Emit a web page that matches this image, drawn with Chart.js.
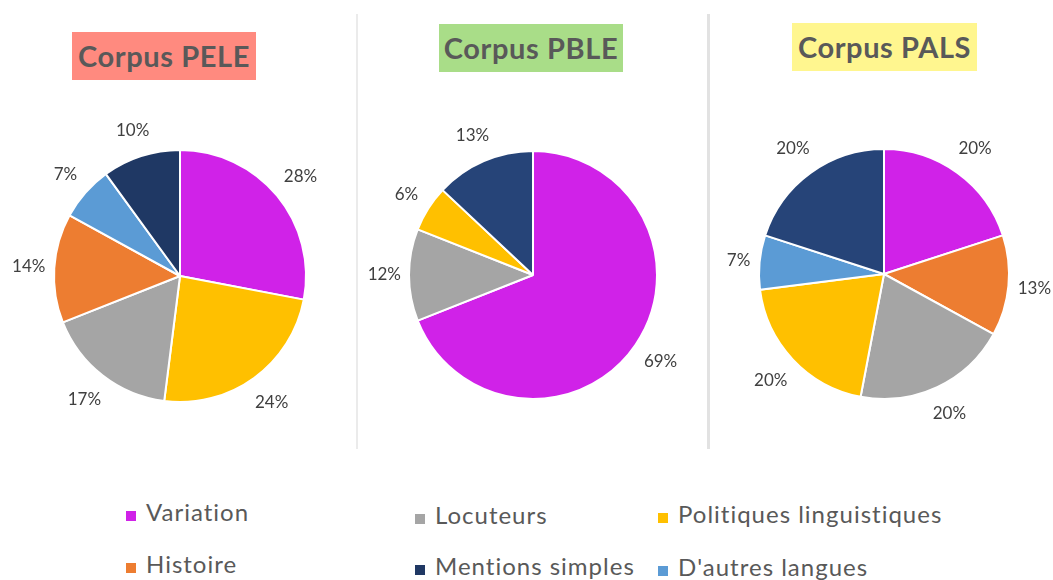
<!DOCTYPE html>
<html lang="fr">
<head>
<meta charset="utf-8">
<script src="https://cdn.jsdelivr.net/npm/chart.js@4.4.1/dist/chart.umd.min.js"></script>
<style>
  body { margin: 0; width: 1053px; height: 580px; background: #fff; position: relative; overflow: hidden; font-family: Lato, "Open Sans", sans-serif; }
  .titre { position: absolute; height: 48px; line-height: 48px; text-align: center; font-weight: bold; font-size: 29px; letter-spacing: 0.6px; color: #595959; }
  .sep { position: absolute; top: 14px; height: 435px; }
  canvas { position: absolute; }
  .leg { position: absolute; font-size: 24px; letter-spacing: 1px; color: #595959; white-space: nowrap; }
  .leg i { position: absolute; width: 10px; height: 10px; left: -20px; }
</style>
</head>
<body>

<div class="titre" style="left:72px;top:32px;width:184px;background:#ff8a7f;">Corpus PELE</div>
<div class="titre" style="left:439px;top:24px;width:184px;background:#a9dd88;">Corpus PBLE</div>
<div class="titre" style="left:792px;top:23px;width:185px;background:#fff68f;">Corpus PALS</div>

<div class="sep" style="left:356px;width:2px;background:#ebebeb;"></div>
<div class="sep" style="left:707px;width:3px;background:#e2e2e2;"></div>

<canvas id="pele" width="340" height="320" style="left:10px;top:116px;"></canvas>
<canvas id="pble" width="340" height="320" style="left:363px;top:115px;"></canvas>
<canvas id="pals" width="340" height="320" style="left:714px;top:114px;"></canvas>

<div id="legende"></div>

<script>
// catégories et couleurs
const categories = ['Variation', 'Locuteurs', 'Politiques linguistiques', 'Histoire', 'Mentions simples', "D'autres langues"];
const couleurs = {
    'Variation': '#d022e8',
    'Locuteurs': '#a5a5a5',
    'Politiques linguistiques': '#ffc000',
    'Histoire': '#ed7d31',
    'Mentions simples': '#203864',
    "D'autres langues": '#5b9bd5',
};

// Corpus PELE (sens horaire depuis le haut)
const labelsPele = ['Variation', 'Politiques linguistiques', 'Locuteurs', 'Histoire', "D'autres langues", 'Mentions simples'];
const valeursPele = [28, 24, 17, 14, 7, 10];

// Corpus PBLE
const labelsPble = ['Variation', 'Locuteurs', 'Politiques linguistiques', 'Mentions simples'];
const valeursPble = [69, 12, 6, 13];

// Corpus PALS
const labelsPals = ['Variation', 'Histoire', 'Locuteurs', 'Politiques linguistiques', "D'autres langues", 'Mentions simples'];
const valeursPals = [20, 13, 20, 20, 7, 20];

// pourcentages à l'extérieur des parts
const etiquettes = {
    id: 'etiquettes',
    afterDatasetsDraw(chart) {
        const ctx = chart.ctx;
        const meta = chart.getDatasetMeta(0);
        const vals = chart.data.datasets[0].data;
        ctx.save();
        ctx.font = '17px Lato, "Open Sans", sans-serif';
        ctx.fillStyle = '#404040';
        ctx.textAlign = 'center';
        ctx.textBaseline = 'middle';
        meta.data.forEach((arc, i) => {
            const p = arc.getProps(['x', 'y', 'startAngle', 'endAngle', 'outerRadius'], true);
            const a = (p.startAngle + p.endAngle) / 2;
            const dx = Math.cos(a), dy = Math.sin(a);
            const txt = vals[i] + '%';
            const w = ctx.measureText(txt).width;
            const h = 14;
            // la boîte du texte reste à l'écart du bord de la part
            const ecart = 8 + 8 * Math.abs(dy);
            const d = p.outerRadius + ecart + Math.abs(dx) * w / 2 + Math.abs(dy) * h / 2;
            ctx.fillText(txt, p.x + dx * d, p.y + dy * d);
        });
        ctx.restore();
    }
};

function camembert(id, labels, valeurs, rayon, marine) {
    const fonds = labels.map(l => l === 'Mentions simples' ? marine : couleurs[l]);
    return new Chart(document.getElementById(id), {
        type: 'pie',
        data: {
            labels: labels,
            datasets: [{
                data: valeurs,
                backgroundColor: fonds,
                borderColor: '#ffffff',
                borderWidth: 2,
            }]
        },
        options: {
            responsive: false,
            animation: false,
            radius: rayon,
            layout: { padding: 0 },
            plugins: { legend: { display: false }, tooltip: { enabled: false } }
        },
        plugins: [etiquettes]
    });
}

camembert('pele', labelsPele, valeursPele, 126, '#1f3864');
camembert('pble', labelsPble, valeursPble, 124, '#264478');
camembert('pals', labelsPals, valeursPals, 125, '#264478');

// légende commune en bas
const placeLegende = {
    'Variation': [146, 497],
    'Histoire': [146, 549],
    'Locuteurs': [435, 500],
    'Mentions simples': [435, 551],
    'Politiques linguistiques': [678, 499],
    "D'autres langues": [678, 552],
};
const legende = document.getElementById('legende');
categories.forEach(c => {
    const [x, y] = placeLegende[c];
    const el = document.createElement('div');
    el.className = 'leg';
    el.style.left = x + 'px';
    el.style.top = y + 'px';
    el.innerHTML = '<i style="background:' + couleurs[c] + ';top:14px"></i>' + c;
    legende.appendChild(el);
});
</script>
</body>
</html>
